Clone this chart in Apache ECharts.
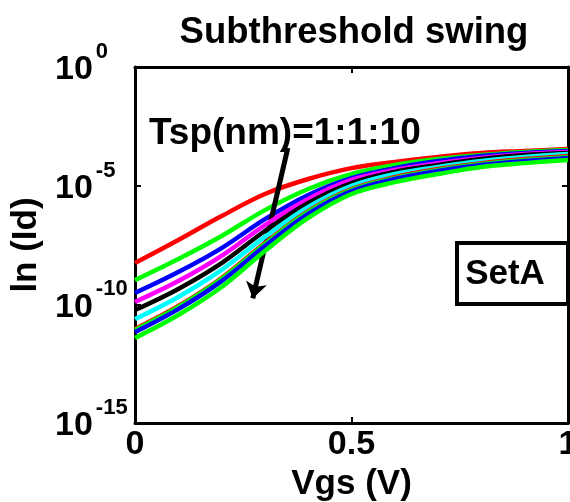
<!DOCTYPE html>
<html>
<head>
<meta charset="utf-8">
<script src="https://cdn.jsdelivr.net/npm/echarts@6/dist/echarts.min.js"></script>
<style>
html,body{margin:0;padding:0;background:#fff;}
#chart{width:570px;height:502px;}
</style>
</head>
<body>
<div id="chart"></div>
<script>
// Vgs (V) sample points
const vgs = [0, 0.1, 0.2, 0.3, 0.4, 0.5, 0.6, 0.7, 0.8, 0.9, 1.0];
// log10(Id), one array per Tsp (nm)
const tsp1  = [-8.26, -7.29, -6.28, -5.35, -4.72, -4.26, -4.00, -3.79, -3.62, -3.54, -3.46];
const tsp2  = [-8.98, -8.09, -7.12, -6.03, -5.14, -4.51, -4.13, -3.88, -3.71, -3.58, -3.50];
const tsp3  = [-9.52, -8.64, -7.63, -6.41, -5.39, -4.68, -4.26, -3.96, -3.75, -3.62, -3.54];
const tsp4  = [-9.90, -9.02, -7.96, -6.66, -5.56, -4.76, -4.34, -4.05, -3.83, -3.67, -3.58];
const tsp5  = [-10.24, -9.35, -8.26, -6.91, -5.73, -4.89, -4.42, -4.13, -3.88, -3.71, -3.62];
const tsp6  = [-10.62, -9.69, -8.55, -7.16, -5.90, -5.01, -4.51, -4.21, -3.96, -3.79, -3.67];
const tsp7  = [-11.04, -10.07, -8.89, -7.42, -6.07, -5.14, -4.64, -4.30, -4.05, -3.88, -3.75];
const tsp8  = [-11.08, -10.11, -8.93, -7.46, -6.11, -5.18, -4.68, -4.34, -4.09, -3.92, -3.79];
const tsp9  = [-11.17, -10.20, -9.02, -7.54, -6.19, -5.23, -4.72, -4.38, -4.13, -3.96, -3.83];
const tsp10 = [-11.42, -10.45, -9.27, -7.75, -6.36, -5.35, -4.85, -4.51, -4.21, -4.05, -3.92];
const seriesNames = ['Tsp=1nm','Tsp=2nm','Tsp=3nm','Tsp=4nm','Tsp=5nm','Tsp=6nm','Tsp=7nm','Tsp=8nm','Tsp=9nm','Tsp=10nm'];
const seriesColors = ['#ff0000','#00ff00','#0000ff','#ff00ff','#000000','#00ffff','#ff0000','#00ff00','#0000ff','#00ff00'];
const xTicks = [0, 0.5, 1];
const yExponents = [-15, -10, -5, 0];
// arrow annotation end points [Vgs, log10 Id]
const arrowFrom = [0.353, -3.41];
const arrowTo = [0.272, -9.75];

const allSeries = [tsp1,tsp2,tsp3,tsp4,tsp5,tsp6,tsp7,tsp8,tsp9,tsp10];
const FONT = '"Liberation Sans", Arial, Helvetica, sans-serif';

const chart = echarts.init(document.getElementById('chart'), null, {renderer:'canvas'});

const series = allSeries.map((vals, i) => ({
  name: seriesNames[i],
  type: 'line',
  xAxisIndex: 0,
  yAxisIndex: 0,
  data: vgs.map((v, k) => [v, vals[k]]),
  showSymbol: false,
  smooth: 0.35,
  lineStyle: {color: seriesColors[i], width: 4.5},
  itemStyle: {color: seriesColors[i]},
  z: 2 + i,
  silent: true
}));

series.push({
  type: 'line',
  xAxisIndex: 0,
  yAxisIndex: 0,
  data: [],
  silent: true,
  markLine: {
    silent: true,
    symbol: ['none', 'arrow'],
    symbolSize: 16,
    label: {show: false},
    lineStyle: {color: '#000', width: 5, type: 'solid', opacity: 1},
    itemStyle: {color: '#000'},
    data: [[{coord: arrowFrom}, {coord: arrowTo}]]
  },
  z: 20
});

const tickFmtY = v => '{b|10}{s|' + v + '}';
const axisBase = {
  axisLine: {show: true, onZero: false, lineStyle: {color: '#000', width: 3}},
  axisTick: {show: true, inside: true, length: 6, lineStyle: {color: '#000', width: 2}},
  splitLine: {show: false}
};

chart.setOption({
  animation: false,
  backgroundColor: '#fff',
  title: {
    text: 'Subthreshold swing',
    left: 349,
    top: 9,
    textAlign: 'center',
    textStyle: {fontFamily: FONT, fontWeight: 'bold', fontSize: 36.5, color: '#000'}
  },
  grid: {left: 135, top: 67, width: 433, height: 356, containLabel: false, outerBoundsMode: 'none'},
  xAxis: [Object.assign({
    type: 'value', min: 0, max: 1, interval: 0.5, position: 'bottom',
    name: 'Vgs (V)', nameLocation: 'middle', nameGap: 40,
    nameTextStyle: {fontFamily: FONT, fontWeight: 'bold', fontSize: 35, color: '#000'},
    axisLabel: {show: true, margin: 5, fontFamily: FONT, fontWeight: 'bold', fontSize: 34, color: '#000',
      formatter: v => (xTicks.indexOf(v) >= 0 ? String(v) : '')}
  }, axisBase), Object.assign({
    type: 'value', min: 0, max: 1, interval: 0.5, position: 'top',
    axisLabel: {show: false}
  }, axisBase)],
  yAxis: [Object.assign({
    type: 'value', min: -15, max: 0, interval: 5, position: 'left',
    name: 'ln (Id)', nameLocation: 'middle', nameGap: 85, nameRotate: 90,
    nameTextStyle: {fontFamily: FONT, fontWeight: 'bold', fontSize: 35, color: '#000'},
    axisLabel: {
      show: true, margin: 80, align: 'left',
      formatter: v => (yExponents.indexOf(v) >= 0 ? tickFmtY(v) : ''),
      rich: {
        b: {fontFamily: FONT, fontWeight: 'bold', fontSize: 34, lineHeight: 52, color: '#000', verticalAlign: 'top', padding: [12, 0, 0, 0]},
        s: {fontFamily: FONT, fontWeight: 'bold', fontSize: 22, lineHeight: 22, color: '#000', verticalAlign: 'top', padding: [0, 0, 0, 3]}
      }
    }
  }, axisBase), Object.assign({
    type: 'value', min: -15, max: 0, interval: 5, position: 'right',
    axisLabel: {show: false}
  }, axisBase)],
  graphic: [
    {
      type: 'text', left: 149, top: 115, z: 30,
      style: {text: 'Tsp(nm)=1:1:10', fontFamily: FONT, fontWeight: 'bold', fontSize: 37, fill: '#000'}
    },
    {
      type: 'group', left: 455, top: 241, z: 30,
      children: [
        {type: 'rect', shape: {x: 0, y: 0, width: 111, height: 61}, style: {fill: '#fff', stroke: '#000', lineWidth: 4}},
        {type: 'text', x: 48, y: 31, style: {text: 'SetA', fontFamily: FONT, fontWeight: 'bold', fontSize: 35, fill: '#000', align: 'center', verticalAlign: 'middle'}}
      ]
    }
  ],
  series: series
});
</script>
</body>
</html>
